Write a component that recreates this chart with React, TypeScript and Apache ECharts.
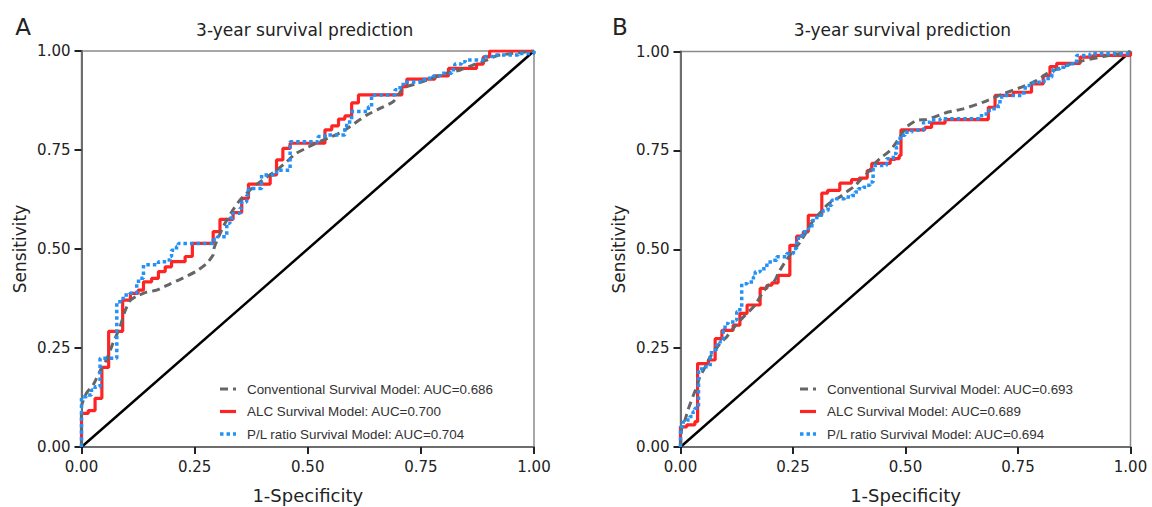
import React, { useEffect, useRef } from "react";
import * as echarts from "echarts";

// ---------- DATA ----------
const TITLE = "3-year survival prediction";
const X_NAME = "1-Specificity";
const Y_NAME = "Sensitivity";
const PANELS = ["A", "B"];

const A_NAMES = [
  "Conventional Survival Model: AUC=0.686",
  "ALC Survival Model: AUC=0.700",
  "P/L ratio Survival Model: AUC=0.704",
];
const B_NAMES = [
  "Conventional Survival Model: AUC=0.693",
  "ALC Survival Model: AUC=0.689",
  "P/L ratio Survival Model: AUC=0.694",
];

// ROC points [1-specificity, sensitivity]
const A_CONV = [
  [0, 0], [0, 0.101], [0.011, 0.136], [0.026, 0.157], [0.044, 0.199], [0.055, 0.22], [0.07, 0.263],
  [0.085, 0.303], [0.096, 0.343], [0.107, 0.369], [0.122, 0.381], [0.144, 0.391], [0.166, 0.396],
  [0.196, 0.412], [0.225, 0.427], [0.254, 0.444], [0.277, 0.464], [0.291, 0.485], [0.293, 0.502],
  [0.299, 0.52], [0.313, 0.556], [0.332, 0.594], [0.35, 0.623], [0.38, 0.657], [0.406, 0.679],
  [0.431, 0.699], [0.453, 0.72], [0.472, 0.74], [0.497, 0.755], [0.52, 0.768], [0.545, 0.78],
  [0.571, 0.793], [0.593, 0.809], [0.63, 0.838], [0.667, 0.859], [0.689, 0.872], [0.711, 0.906],
  [0.741, 0.918], [0.77, 0.929], [0.807, 0.944], [0.837, 0.952], [0.866, 0.965], [0.896, 0.977],
  [0.918, 0.988], [0.954, 0.994], [1, 1],
];
// step curves: each point is the top of a vertical rise
const A_ALC = [
  [0, 0], [0, 0.085], [0.015, 0.092], [0.03, 0.123], [0.045, 0.201], [0.06, 0.292], [0.091, 0.371],
  [0.108, 0.388], [0.125, 0.396], [0.137, 0.417], [0.155, 0.426], [0.17, 0.443], [0.185, 0.455],
  [0.199, 0.468], [0.229, 0.481], [0.245, 0.514], [0.291, 0.544], [0.306, 0.575], [0.335, 0.592],
  [0.354, 0.628], [0.369, 0.664], [0.417, 0.687], [0.431, 0.725], [0.445, 0.754], [0.461, 0.767],
  [0.538, 0.801], [0.553, 0.811], [0.568, 0.828], [0.582, 0.836], [0.597, 0.869], [0.612, 0.889],
  [0.708, 0.91], [0.719, 0.929], [0.781, 0.937], [0.811, 0.956], [0.873, 0.967], [0.888, 0.985],
  [0.902, 1], [1, 1],
];
const A_PLR = [
  [0, 0], [0, 0.127], [0.011, 0.131], [0.022, 0.144], [0.03, 0.152], [0.041, 0.224], [0.078, 0.367],
  [0.092, 0.384], [0.107, 0.388], [0.122, 0.413], [0.126, 0.426], [0.137, 0.46], [0.17, 0.468],
  [0.188, 0.472], [0.196, 0.481], [0.199, 0.497], [0.21, 0.506], [0.214, 0.514], [0.29, 0.523],
  [0.3, 0.531], [0.321, 0.565], [0.328, 0.578], [0.335, 0.59], [0.35, 0.603], [0.354, 0.619],
  [0.365, 0.636], [0.369, 0.653], [0.398, 0.687], [0.431, 0.699], [0.461, 0.771], [0.523, 0.784],
  [0.538, 0.788], [0.582, 0.805], [0.586, 0.821], [0.597, 0.847], [0.634, 0.859], [0.641, 0.889],
  [0.693, 0.902], [0.704, 0.914], [0.711, 0.922], [0.748, 0.928], [0.763, 0.931], [0.777, 0.937],
  [0.792, 0.944], [0.818, 0.948], [0.822, 0.96], [0.825, 0.967], [0.84, 0.973], [0.848, 0.977],
  [0.892, 0.986], [0.91, 0.99], [0.965, 0.994], [1, 1],
];

const B_CONV = [
  [0, 0], [0.003, 0.051], [0.01, 0.068], [0.017, 0.095], [0.028, 0.129], [0.036, 0.152], [0.043, 0.178],
  [0.051, 0.194], [0.066, 0.228], [0.077, 0.245], [0.088, 0.262], [0.103, 0.279], [0.117, 0.3],
  [0.14, 0.329], [0.166, 0.359], [0.177, 0.38], [0.192, 0.405], [0.21, 0.422], [0.217, 0.439],
  [0.228, 0.46], [0.24, 0.48], [0.251, 0.497], [0.266, 0.518], [0.28, 0.544], [0.295, 0.573],
  [0.31, 0.592], [0.325, 0.611], [0.34, 0.624], [0.354, 0.632], [0.369, 0.645], [0.384, 0.657],
  [0.399, 0.674], [0.414, 0.691], [0.428, 0.712], [0.443, 0.729], [0.466, 0.75], [0.48, 0.771],
  [0.492, 0.792], [0.503, 0.81], [0.525, 0.826], [0.547, 0.828], [0.595, 0.847], [0.628, 0.855],
  [0.673, 0.872], [0.717, 0.893], [0.758, 0.91], [0.792, 0.927], [0.814, 0.944], [0.858, 0.965],
  [0.895, 0.977], [0.94, 0.987], [1, 1],
];
const B_ALC = [
  [0, 0], [0, 0.051], [0.014, 0.056], [0.032, 0.064], [0.038, 0.211], [0.062, 0.22], [0.077, 0.274],
  [0.092, 0.295], [0.117, 0.308], [0.132, 0.338], [0.148, 0.359], [0.177, 0.401], [0.192, 0.409],
  [0.203, 0.415], [0.217, 0.434], [0.243, 0.51], [0.258, 0.533], [0.273, 0.544], [0.284, 0.586],
  [0.314, 0.642], [0.327, 0.649], [0.354, 0.667], [0.38, 0.676], [0.397, 0.68], [0.415, 0.699],
  [0.425, 0.717], [0.466, 0.727], [0.477, 0.729], [0.486, 0.737], [0.49, 0.802], [0.543, 0.808],
  [0.558, 0.819], [0.588, 0.828], [0.684, 0.859], [0.699, 0.889], [0.74, 0.897], [0.78, 0.918],
  [0.806, 0.939], [0.821, 0.962], [0.836, 0.97], [0.888, 0.986], [0.917, 0.99], [1, 1],
];
const B_PLR = [
  [0, 0], [0, 0.051], [0.006, 0.064], [0.014, 0.068], [0.021, 0.077], [0.028, 0.089], [0.032, 0.098],
  [0.037, 0.102], [0.04, 0.194], [0.047, 0.203], [0.066, 0.232], [0.069, 0.245], [0.08, 0.258],
  [0.088, 0.266], [0.095, 0.295], [0.099, 0.312], [0.106, 0.316], [0.121, 0.321], [0.125, 0.342],
  [0.132, 0.354], [0.136, 0.413], [0.148, 0.417], [0.162, 0.43], [0.166, 0.443], [0.177, 0.451],
  [0.192, 0.468], [0.206, 0.472], [0.214, 0.481], [0.236, 0.489], [0.251, 0.502], [0.258, 0.523],
  [0.262, 0.535], [0.273, 0.544], [0.284, 0.552], [0.292, 0.573], [0.303, 0.586], [0.317, 0.598],
  [0.328, 0.611], [0.336, 0.624], [0.347, 0.628], [0.365, 0.632], [0.38, 0.636], [0.388, 0.645],
  [0.395, 0.653], [0.406, 0.657], [0.414, 0.662], [0.421, 0.67], [0.428, 0.712], [0.458, 0.729],
  [0.473, 0.742], [0.48, 0.758], [0.484, 0.775], [0.488, 0.788], [0.499, 0.796], [0.514, 0.801],
  [0.54, 0.821], [0.554, 0.827], [0.577, 0.83], [0.669, 0.842], [0.68, 0.851], [0.692, 0.855],
  [0.706, 0.864], [0.71, 0.885], [0.721, 0.889], [0.758, 0.895], [0.766, 0.914], [0.784, 0.922],
  [0.808, 0.927], [0.817, 0.935], [0.825, 0.948], [0.828, 0.956], [0.843, 0.96], [0.854, 0.965],
  [0.869, 0.969], [0.88, 0.99], [0.91, 0.994], [1, 1],
];
const DIAG = [[0, 0], [1, 1]];
const TICKS = [0, 0.25, 0.5, 0.75, 1];

// ---------- STYLE ----------
const FONT = "DejaVu Sans";
const LEGEND_FONT = "Liberation Sans";
const C_GRAY = "#666666";
const C_RED = "#ff2424";
const C_BLUE = "#2391f5";
const STY_CONV = { color: C_GRAY, width: 3, dash: [8, 5] };
const STY_ALC = { color: C_RED, width: 3.2, dash: null as any };
const STY_PLR = { color: C_BLUE, width: 3.5, dash: [3.5, 3] };

function expandSteps(pts: number[][]) {
  const out: number[][] = [pts[0]];
  for (let i = 1; i < pts.length; i++) {
    out.push([pts[i][0], pts[i - 1][1]]);
    out.push(pts[i]);
  }
  return out;
}

const GRIDS = [
  { left: 81.5, top: 51, width: 452.5, height: 396 },
  { left: 680.5, top: 51.5, width: 450, height: 395.5 },
];
const LEGEND_POS = [
  { x: 220, y: 389 },
  { x: 800, y: 389 },
];

function makeAxis(kind: "x" | "y", idx: number) {
  return {
    type: "value",
    gridIndex: idx,
    min: TICKS[0],
    max: TICKS[TICKS.length - 1],
    interval: TICKS[1] - TICKS[0],
    name: kind === "x" ? X_NAME : Y_NAME,
    nameLocation: "middle",
    nameGap: kind === "x" ? 39 : 53,
    nameTextStyle: { fontFamily: FONT, fontSize: kind === "x" ? 18 : 17, color: "#222" },
    axisLine: { show: true, onZero: false, lineStyle: { color: "#6e6e6e", width: 2 } },
    axisTick: { show: true, length: 7, lineStyle: { color: "#222", width: 2 } },
    axisLabel: {
      formatter: (v: number) => v.toFixed(2),
      color: "#222",
      fontFamily: FONT,
      fontSize: 15,
      margin: kind === "x" ? 12 : 11,
    },
    splitLine: { show: false },
  };
}

function lineStyleOf(s: any) {
  return { color: s.color, width: s.width, type: s.dash ? s.dash : "solid" };
}

function panelSeries(idx: number, names: string[], conv: number[][], alc: number[][], plr: number[][]) {
  const base = { type: "line", xAxisIndex: idx, yAxisIndex: idx, symbol: "none", showSymbol: false, silent: true };
  return [
    { ...base, name: "diag" + idx, data: DIAG, lineStyle: { color: "#000", width: 2.5 } },
    { ...base, name: names[1], data: expandSteps(alc), lineStyle: lineStyleOf(STY_ALC) },
    { ...base, name: names[0], data: conv, smooth: 0.2, lineStyle: lineStyleOf(STY_CONV) },
    { ...base, name: names[2], data: expandSteps(plr), lineStyle: lineStyleOf(STY_PLR) },
  ];
}

function legendGraphics(pos: { x: number; y: number }, names: string[]) {
  const styles = [STY_CONV, STY_ALC, STY_PLR];
  const out: any[] = [];
  names.forEach((n, i) => {
    const y = pos.y + i * 22.5;
    const s = styles[i];
    out.push({
      type: "line",
      shape: { x1: pos.x, y1: y, x2: pos.x + 16, y2: y },
      style: { stroke: s.color, lineWidth: s.width, lineDash: s.dash || undefined },
      silent: true,
    });
    out.push({
      type: "text",
      x: pos.x + 27,
      y,
      style: { text: n, fontFamily: LEGEND_FONT, fontSize: 13.4, fill: "#333", align: "left", verticalAlign: "middle" },
      silent: true,
    });
  });
  return out;
}

export default function App() {
  const ref = useRef<HTMLDivElement>(null);
  useEffect(() => {
    if (!ref.current) return;
    const chart = echarts.init(ref.current, undefined, { renderer: "svg" });
    const graphic: any[] = [];
    PANELS.forEach((p, i) => {
      const g = GRIDS[i];
      graphic.push({
        type: "text",
        x: i === 0 ? 23 : 620,
        y: 27,
        style: { text: p, fontFamily: FONT, fontSize: 23, fill: "#222", align: "center", verticalAlign: "middle" },
      });
      graphic.push({
        type: "text",
        x: g.left + g.width / 2 - 3,
        y: 30,
        style: { text: TITLE, fontFamily: FONT, fontSize: 17, fill: "#222", align: "center", verticalAlign: "middle" },
      });
    });
    graphic.push(...legendGraphics(LEGEND_POS[0], A_NAMES));
    graphic.push(...legendGraphics(LEGEND_POS[1], B_NAMES));
    chart.setOption({
      animation: false,
      backgroundColor: "#ffffff",
      grid: GRIDS.map((g) => ({
        ...g,
        show: true,
        containLabel: false,
        outerBoundsMode: "none",
        borderColor: "#8a8a8a",
        borderWidth: 1.5,
        backgroundColor: "transparent",
      })),
      xAxis: [makeAxis("x", 0), makeAxis("x", 1)],
      yAxis: [makeAxis("y", 0), makeAxis("y", 1)],
      graphic,
      series: [
        ...panelSeries(0, A_NAMES, A_CONV, A_ALC, A_PLR),
        ...panelSeries(1, B_NAMES, B_CONV, B_ALC, B_PLR),
      ],
    });
    return () => chart.dispose();
  }, []);
  return (
    <div
      ref={ref}
      style={{ position: "fixed", left: 0, top: 0, width: 1152, height: 507, background: "#fff" }}
    />
  );
}
